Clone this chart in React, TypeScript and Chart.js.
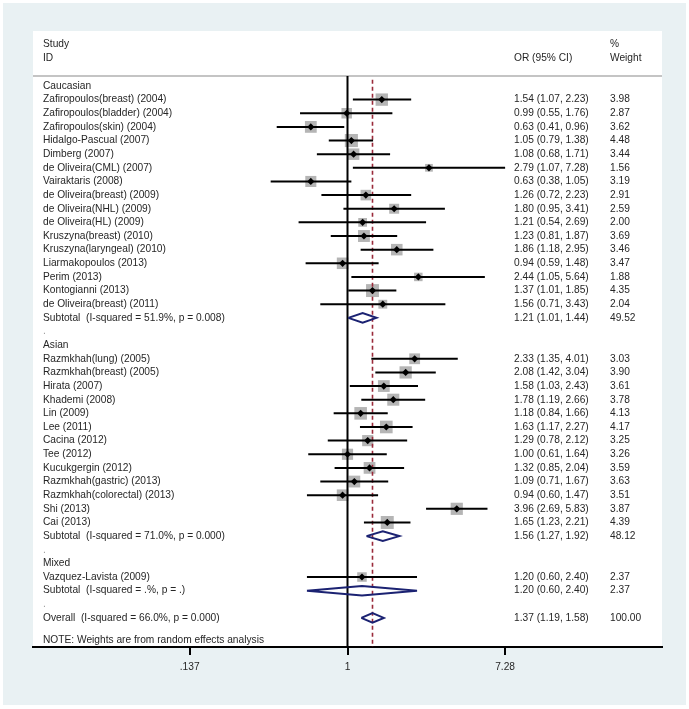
import React, { useEffect, useRef } from "react";
import { Chart, registerables } from "chart.js";

Chart.register(...registerables);

const GROUPS = ["Caucasian", "Asian", "Mixed"];
const GROUP_SIZES = [16, 13, 1];

const STUDIES = [
  "Zafiropoulos(breast) (2004)",
  "Zafiropoulos(bladder) (2004)",
  "Zafiropoulos(skin) (2004)",
  "Hidalgo-Pascual (2007)",
  "Dimberg (2007)",
  "de Oliveira(CML) (2007)",
  "Vairaktaris (2008)",
  "de Oliveira(breast) (2009)",
  "de Oliveira(NHL) (2009)",
  "de Oliveira(HL) (2009)",
  "Kruszyna(breast) (2010)",
  "Kruszyna(laryngeal) (2010)",
  "Liarmakopoulos (2013)",
  "Perim (2013)",
  "Kontogianni (2013)",
  "de Oliveira(breast) (2011)",
  "Razmkhah(lung) (2005)",
  "Razmkhah(breast) (2005)",
  "Hirata (2007)",
  "Khademi (2008)",
  "Lin (2009)",
  "Lee (2011)",
  "Cacina (2012)",
  "Tee (2012)",
  "Kucukgergin (2012)",
  "Razmkhah(gastric) (2013)",
  "Razmkhah(colorectal) (2013)",
  "Shi (2013)",
  "Cai (2013)",
  "Vazquez-Lavista (2009)",
];
const OR = [
  1.54, 0.99, 0.63, 1.05, 1.08, 2.79, 0.63, 1.26, 1.8, 1.21, 1.23, 1.86, 0.94, 2.44, 1.37, 1.56,
  2.33, 2.08, 1.58, 1.78, 1.18, 1.63, 1.29, 1.0, 1.32, 1.09, 0.94, 3.96, 1.65,
  1.2,
];
const LOWER = [
  1.07, 0.55, 0.41, 0.79, 0.68, 1.07, 0.38, 0.72, 0.95, 0.54, 0.81, 1.18, 0.59, 1.05, 1.01, 0.71,
  1.35, 1.42, 1.03, 1.19, 0.84, 1.17, 0.78, 0.61, 0.85, 0.71, 0.6, 2.69, 1.23,
  0.6,
];
const UPPER = [
  2.23, 1.76, 0.96, 1.38, 1.71, 7.28, 1.05, 2.23, 3.41, 2.69, 1.87, 2.95, 1.48, 5.64, 1.85, 3.43,
  4.01, 3.04, 2.43, 2.66, 1.66, 2.27, 2.12, 1.64, 2.04, 1.67, 1.47, 5.83, 2.21,
  2.4,
];
const WEIGHTS = [
  3.98, 2.87, 3.62, 4.48, 3.44, 1.56, 3.19, 2.91, 2.59, 2.0, 3.69, 3.46, 3.47, 1.88, 4.35, 2.04,
  3.03, 3.9, 3.61, 3.78, 4.13, 4.17, 3.25, 3.26, 3.59, 3.63, 3.51, 3.87, 4.39,
  2.37,
];

const SUB_LABELS = [
  "Subtotal  (I-squared = 51.9%, p = 0.008)",
  "Subtotal  (I-squared = 71.0%, p = 0.000)",
  "Subtotal  (I-squared = .%, p = .)",
];
const SUB_OR = [1.21, 1.56, 1.2];
const SUB_LOWER = [1.01, 1.27, 0.6];
const SUB_UPPER = [1.44, 1.92, 2.4];
const SUB_WEIGHTS = [49.52, 48.12, 2.37];

const OVERALL_LABEL = "Overall  (I-squared = 66.0%, p = 0.000)";
const OVERALL_OR = 1.37;
const OVERALL_LOWER = 1.19;
const OVERALL_UPPER = 1.58;
const OVERALL_WEIGHT = 100.0;

const NOTE = "NOTE: Weights are from random effects analysis";
const HEADER_LEFT = ["Study", "ID"];
const HEADER_MID = "OR (95% CI)";
const HEADER_RIGHT = ["%", "Weight"];

const TICK_VALUES = [0.137, 1, 7.28];
const TICK_LABELS = [".137", "1", "7.28"];

type Row = {
  kind: "group" | "study" | "sub" | "dot" | "overall";
  label: string;
  row: number;
  est?: number;
  lo?: number;
  hi?: number;
  w?: number;
};

function buildRows(): Row[] {
  const rows: Row[] = [];
  let r = 0;
  let idx = 0;
  GROUPS.forEach((g, gi) => {
    rows.push({ kind: "group", label: g, row: r++ });
    for (let k = 0; k < GROUP_SIZES[gi]; k++) {
      rows.push({
        kind: "study",
        label: STUDIES[idx],
        est: OR[idx],
        lo: LOWER[idx],
        hi: UPPER[idx],
        w: WEIGHTS[idx],
        row: r++,
      });
      idx++;
    }
    rows.push({
      kind: "sub",
      label: SUB_LABELS[gi],
      est: SUB_OR[gi],
      lo: SUB_LOWER[gi],
      hi: SUB_UPPER[gi],
      w: SUB_WEIGHTS[gi],
      row: r++,
    });
    rows.push({ kind: "dot", label: ".", row: r++ });
  });
  rows.push({
    kind: "overall",
    label: OVERALL_LABEL,
    est: OVERALL_OR,
    lo: OVERALL_LOWER,
    hi: OVERALL_UPPER,
    w: OVERALL_WEIGHT,
    row: r++,
  });
  return rows;
}

const FONT = '"Liberation Sans", Arial, sans-serif';
const TEXT_COLOR = "#262626";
const GAP = { x: NaN, y: NaN };

export default function App() {
  const ref = useRef<HTMLCanvasElement | null>(null);

  useEffect(() => {
    if (!ref.current) return;
    const rows = buildRows();
    const studies = rows.filter((r) => r.kind === "study");
    const pooled = rows.filter((r) => r.kind === "sub" || r.kind === "overall");
    const yMin = -4.03;
    const yMax = 41.13;
    const L = 3.961;

    const ciData: any[] = [];
    studies.forEach((s) => {
      ciData.push({ x: s.lo, y: s.row }, { x: s.hi, y: s.row }, GAP);
    });
    const dh = 0.35;
    const diamondData: any[] = [];
    pooled.forEach((s) => {
      diamondData.push(
        { x: s.lo, y: s.row },
        { x: s.est, y: s.row - dh },
        { x: s.hi, y: s.row },
        { x: s.est, y: s.row + dh },
        { x: s.lo, y: s.row },
        GAP
      );
    });

    const bgPlugin = {
      id: "bg",
      beforeDraw(chart: any) {
        const { ctx, chartArea: a } = chart;
        ctx.save();
        ctx.fillStyle = "#ffffff";
        ctx.fillRect(0, 0, chart.width, chart.height);
        ctx.fillStyle = "#e9f1f3";
        ctx.fillRect(3, 3, 683, 702);
        ctx.fillStyle = "#ffffff";
        ctx.fillRect(a.left, a.top, a.right - a.left, a.bottom - a.top);
        const y = chart.scales.y.getPixelForValue(-0.73);
        ctx.strokeStyle = "#c4c4c4";
        ctx.lineWidth = 2;
        ctx.beginPath();
        ctx.moveTo(a.left, y);
        ctx.lineTo(a.right, y);
        ctx.stroke();
        ctx.restore();
      },
    };

    const textPlugin = {
      id: "texts",
      afterDatasetsDraw(chart: any) {
        const { ctx, chartArea: a } = chart;
        const ys = chart.scales.y;
        const xLabel = a.left + 10;
        const xOR = 514;
        const xW = 610;
        ctx.save();
        ctx.font = `10.2px ${FONT}`;
        ctx.textBaseline = "middle";
        ctx.textAlign = "left";
        ctx.fillStyle = TEXT_COLOR;
        ctx.fillText(HEADER_LEFT[0], xLabel, ys.getPixelForValue(-3.08));
        ctx.fillText(HEADER_LEFT[1], xLabel, ys.getPixelForValue(-2.05));
        ctx.fillText(HEADER_MID, xOR, ys.getPixelForValue(-2.05));
        ctx.fillText(HEADER_RIGHT[0], xW, ys.getPixelForValue(-3.08));
        ctx.fillText(HEADER_RIGHT[1], xW, ys.getPixelForValue(-2.05));
        rows.forEach((r) => {
          const y = ys.getPixelForValue(r.row);
          if (r.kind === "dot") {
            ctx.fillStyle = "#9a9a9a";
            ctx.fillText(r.label, xLabel, y);
            ctx.fillStyle = TEXT_COLOR;
            return;
          }
          ctx.fillText(r.label, xLabel, y);
          if (r.est !== undefined) {
            const t = `${r.est.toFixed(2)} (${r.lo!.toFixed(2)}, ${r.hi!.toFixed(2)})`;
            ctx.fillText(t, xOR, y);
            ctx.fillText(r.w!.toFixed(2), xW, y);
          }
        });
        ctx.fillText(NOTE, xLabel, ys.getPixelForValue(40.6));
        ctx.restore();
      },
    };

    const chart = new Chart(ref.current, {
      type: "scatter",
      data: {
        datasets: [
          {
            type: "scatter",
            label: "point",
            data: studies.map((s) => ({ x: s.est, y: s.row })),
            pointStyle: "rectRot",
            pointRadius: 3.6,
            backgroundColor: "#000000",
            borderWidth: 0,
            order: 0,
          } as any,
          {
            type: "line",
            label: "ci",
            data: ciData,
            borderColor: "#000000",
            borderWidth: 2,
            pointRadius: 0,
            fill: false,
            tension: 0,
            spanGaps: false,
            order: 1,
          } as any,
          {
            type: "line",
            label: "pooled",
            data: diamondData,
            borderColor: "#1b2272",
            borderWidth: 2,
            borderJoinStyle: "miter",
            pointRadius: 0,
            fill: false,
            tension: 0,
            spanGaps: false,
            order: 1,
          } as any,
          {
            type: "line",
            label: "overall",
            data: [
              { x: OVERALL_OR, y: -0.45 },
              { x: OVERALL_OR, y: yMax },
            ],
            borderColor: "#9a2a3a",
            borderWidth: 1.6,
            borderDash: [4, 3],
            pointRadius: 0,
            fill: false,
            order: 2,
          } as any,
          {
            type: "line",
            label: "null",
            data: [
              { x: 1, y: -0.73 },
              { x: 1, y: yMax },
            ],
            borderColor: "#000000",
            borderWidth: 2,
            pointRadius: 0,
            fill: false,
            order: 3,
          } as any,
          {
            type: "scatter",
            label: "box",
            data: studies.map((s) => ({ x: s.est, y: s.row })),
            pointStyle: "rect",
            pointRadius: studies.map((s) => 4.38 * Math.sqrt(s.w!)),
            backgroundColor: "#b5b5b5",
            borderWidth: 0,
            order: 4,
          } as any,
        ],
      },
      options: {
        animation: false,
        responsive: false,
        devicePixelRatio: 1,
        events: [],
        layout: { padding: { left: 33, right: 27, top: 31, bottom: 0 } },
        plugins: { legend: { display: false }, tooltip: { enabled: false } },
        scales: {
          x: {
            type: "logarithmic",
            position: "bottom",
            min: Math.exp(-L),
            max: Math.exp(L),
            afterBuildTicks: (s: any) => {
              s.ticks = TICK_VALUES.map((v) => ({ value: v }));
            },
            afterFit: (s: any) => {
              s.height = 62;
            },
            ticks: {
              autoSkip: false,
              maxRotation: 0,
              minRotation: 0,
              padding: 6,
              color: TEXT_COLOR,
              font: { family: FONT, size: 10.2 },
              callback: (_v: any, i: number) => TICK_LABELS[i],
            },
            grid: {
              drawOnChartArea: false,
              drawTicks: true,
              tickLength: 8,
              color: "#000000",
              lineWidth: 2,
            },
            border: { display: true, color: "#000000", width: 2 },
          },
          y: {
            type: "linear",
            display: false,
            min: yMin,
            max: yMax,
            reverse: true,
          },
        },
      } as any,
      plugins: [bgPlugin, textPlugin],
    });
    return () => chart.destroy();
  }, []);

  return (
    <canvas
      ref={ref}
      width={689}
      height={709}
      style={{ position: "fixed", left: 0, top: 0, display: "block" }}
    />
  );
}
